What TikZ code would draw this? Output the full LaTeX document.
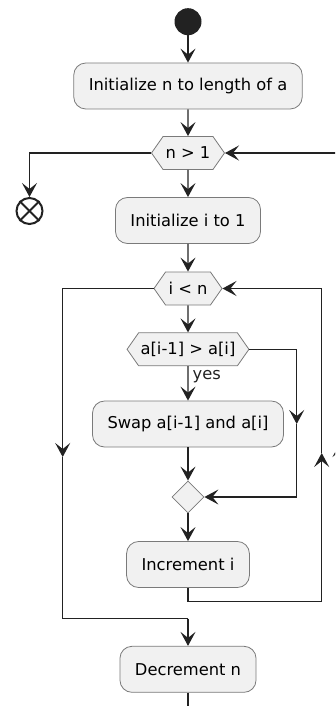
\documentclass[tikz,border=0pt]{standalone}
\usepackage{fontspec}
\setmainfont{DejaVu Sans}
\usetikzlibrary{shapes.geometric,shapes.symbols,arrows.meta}
\definecolor{actfill}{HTML}{F1F1F1}
\definecolor{actline}{HTML}{222222}
\definecolor{actborder}{HTML}{7A7A7A}

\begin{document}
\begin{tikzpicture}[x=1pt,y=-1pt,
  every node/.style={font=\fontsize{16.3}{19}\selectfont},
  act/.style={draw=actborder, line width=0.8pt, fill=actfill, rounded corners=12pt, minimum height=46pt, inner xsep=15pt},
  test/.style={draw=actborder, line width=0.8pt, fill=actfill, shape=signal, signal to=east and west, signal pointer angle=110, minimum height=33pt, inner xsep=2pt},
  flow/.style={actline, line width=1.3pt, -{Stealth[length=14pt,width=15pt,inset=6pt]}},
  line/.style={actline, line width=1.3pt}]

	%Define the coordinates
	%\cx = main column, \xl = left loop, \xr = inner right, \xo = outer right
	\pgfmathsetmacro{\cx}{188}
	\pgfmathsetmacro{\xl}{62.7}
	\pgfmathsetmacro{\xs}{296.7}
	\pgfmathsetmacro{\xr}{321.7}
	\pgfmathsetmacro{\xo}{340}

	\useasboundingbox (0,0) rectangle (335,706);
	\clip (0,0) rectangle (335,706);

	%Start and stop
	\node[circle, fill=actline, inner sep=0pt, minimum size=27pt] (start) at (\cx,21.7) {};
	\node[circle, draw=actline, line width=2pt, inner sep=0pt, minimum size=26pt] (stop) at (29.5,211) {};
	\draw[actline, line width=2pt] (stop.north west) -- (stop.south east);
	\draw[actline, line width=2pt] (stop.north east) -- (stop.south west);

	%Activities
	\node[act] (initn) at (\cx,86) {Initialize n to length of a};
	\node[test, minimum width=73pt] (outer) at (\cx,153) {n > 1};
	\node[act] (initi) at (\cx,220.5) {Initialize i to 1};
	\node[test, minimum width=68pt] (inner) at (\cx,288.5) {i < n};
	\node[test, minimum width=121pt] (cmp) at (\cx,349.3) {a[i-1] > a[i]};
	\node[act] (swap) at (\cx,424) {Swap a[i-1] and a[i]};
	\node[diamond, draw=actborder, line width=0.8pt, fill=actfill, inner sep=0pt, minimum size=32pt] (merge) at (\cx,497) {};
	\node[act] (inc) at (\cx,564.5) {Increment i};
	\node[act] (dec) at (\cx,669.3) {Decrement n};

	%Helper points of the loops
	\coordinate (lmid) at (\xl,457);
	\coordinate (ljoin) at (\cx,618.7);
	\coordinate (smid) at (\xs,424);
	\coordinate (rcorner) at (\xr,601.7);
	\coordinate (rmid) at (\xr,453);
	\coordinate (obot) at (\xo,730);
	\coordinate (omid) at (\xo,443);

	%Main column
	\draw[flow] (start) -- (initn);
	\draw[flow] (initn) -- (outer);
	\draw[flow] (outer.west) -| (stop.north);
	\draw[flow] (outer) -- (initi);
	\draw[flow] (initi) -- (inner);
	\draw[flow] (inner) -- (cmp);
	\draw[flow] (cmp) -- node[pos=0.3, anchor=west, inner xsep=4pt] (yes) {yes} (swap);
	\draw[flow] (swap) -- (merge);
	\draw[flow] (merge) -- (inc);

	%Leaving the inner loop
	\draw[flow] (inner.west) -| (lmid);
	\draw[line] (lmid) |- (ljoin);
	\draw[flow] (ljoin) -- (dec);

	%Skipping the swap
	\draw[flow] (cmp.east) -| (smid);
	\draw[flow] (smid) |- (merge.east);

	%Back to i < n
	\draw[flow] (inc.south) |- (rcorner) -- (rmid);
	\draw[flow] (rmid) |- (inner.east);

	%Back to n > 1
	\draw[line] (dec.south) |- (obot);
	\draw[flow] (obot) -- (omid);
	\draw[flow] (omid) |- (outer.east);

\end{tikzpicture}
\end{document}
